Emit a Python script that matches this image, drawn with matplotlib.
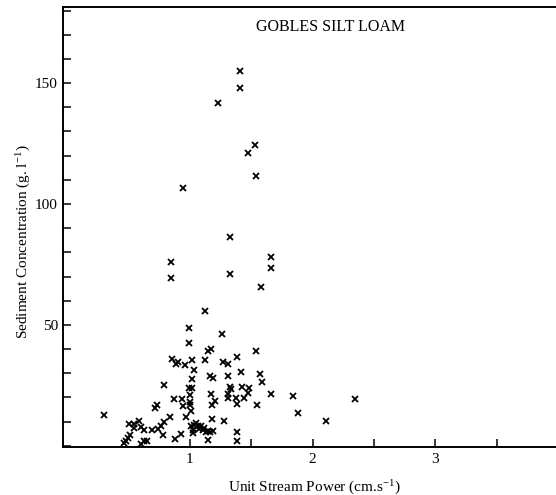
import numpy as np
import matplotlib
matplotlib.use("Agg")
import matplotlib.pyplot as plt
from matplotlib.ticker import MultipleLocator, FixedLocator

plt.rcParams['font.family'] = ['Liberation Serif', 'DejaVu Serif']
plt.rcParams['mathtext.fontset'] = 'stix'

# unit stream power (cm/s) and sediment concentration (g/l)
power_high = [1.41, 1.41, 1.23, 1.53, 1.47, 1.54, 0.945, 1.33, 0.845, 1.66,
              1.66, 1.33, 0.845, 1.58, 1.12, 0.99, 1.26, 0.99]
conc_high = [154.8, 147.9, 141.7, 124.2, 121.0, 111.7, 106.8, 86.3, 76.2, 78.0,
             73.7, 71.0, 69.2, 65.6, 55.8, 48.9, 46.2, 42.4]

power_mid = [1.15, 1.17, 1.54, 1.385, 0.852, 0.89, 0.907, 0.961, 1.015, 1.12,
             1.27, 1.31, 1.035, 1.417, 1.57, 1.16, 1.19, 1.31, 1.02, 1.585, 0.793]
conc_mid = [39.4, 40.0, 39.0, 36.9, 36.0, 33.9, 34.7, 33.5, 35.3, 35.6,
            34.6, 33.7, 31.4, 30.6, 29.5, 28.7, 27.9, 29.0, 27.7, 26.3, 25.3]

power_low = [0.99, 1.015, 1.323, 1.337, 1.428, 1.48, 1.176, 1.309, 1.475, 1.663,
             1.838, 2.347, 0.999, 0.867, 0.937, 1.309, 1.378, 1.437, 1.204, 0.999,
             0.999, 1.183, 0.945, 1.383, 1.548, 0.712, 0.732]
conc_low = [23.9, 23.9, 24.4, 23.5, 24.5, 24.1, 21.5, 21.6, 21.8, 21.5,
            20.5, 19.2, 20.9, 19.3, 19.4, 19.6, 19.7, 19.9, 18.7, 17.9,
            17.0, 16.8, 16.4, 17.1, 17.0, 15.6, 16.8]

power_base = [1.012, 0.30, 1.884, 0.968, 0.840, 1.183, 1.282, 2.11, 0.789, 0.589,
              0.505, 0.542, 0.546, 0.605, 0.625, 0.691, 0.740, 0.762, 0.78, 0.494,
              0.508, 0.467, 0.481, 0.603, 0.63, 0.65, 0.876, 0.93,
              1.01, 1.023, 1.037, 1.05, 1.064, 1.029, 1.078, 1.092, 1.105, 1.119,
              1.133, 1.146, 1.165, 1.187, 1.146, 1.38, 1.38]
conc_base = [14.2, 12.9, 13.7, 11.7, 11.7, 10.9, 10.4, 10.1, 9.8, 10.4,
             8.8, 8.9, 7.5, 7.7, 6.4, 6.5, 6.8, 8.0, 4.5, 3.2,
             4.3, 1.1, 1.9, 0.8, 1.9, 1.9, 3.0, 4.9,
             8.0, 6.6, 8.7, 9.6, 8.0, 5.2, 7.0, 8.0, 6.6, 7.3,
             5.9, 6.2, 5.9, 6.2, 2.5, 5.9, 2.1]

power = np.array(power_high + power_mid + power_low + power_base)
conc = np.array(conc_high + conc_mid + conc_low + conc_base)

fig = plt.figure(figsize=(5.56, 4.95), dpi=100)
ax = fig.add_axes([0.1142, 0.097, 0.893, 0.889])

ax.plot(power, conc, linestyle='none', marker='x',
        markersize=4, markeredgewidth=1.3, color='black')

ax.set_xlim(-0.03, 4.016)
ax.set_ylim(-0.5, 181.5)

ax.xaxis.set_major_locator(FixedLocator([1, 2, 3]))
ax.xaxis.set_minor_locator(FixedLocator([1.5, 2.5, 3.5]))
ax.yaxis.set_major_locator(FixedLocator([50, 100, 150]))
ax.yaxis.set_minor_locator(MultipleLocator(10))

ax.tick_params(which='both', direction='in', length=6, width=1.1,
               top=False, right=False, labelsize=11, pad=4)

for side in ['left', 'bottom', 'top']:
    ax.spines[side].set_linewidth(1.4)
ax.spines['right'].set_visible(False)

fig.text(0.594, 0.945, 'GOBLES SILT LOAM', ha='center', va='center', fontsize=11.5)
fig.text(0.565, 0.018, r'Unit Stream Power (cm.s$^{\mathregular{-1}}$)',
         ha='center', va='center', fontsize=11)
fig.text(0.04, 0.513, r'Sediment Concentration (g. l$^{\mathregular{-1}}$)',
         ha='center', va='center', rotation=90, fontsize=11)

fig.savefig('out.png', dpi=100)
